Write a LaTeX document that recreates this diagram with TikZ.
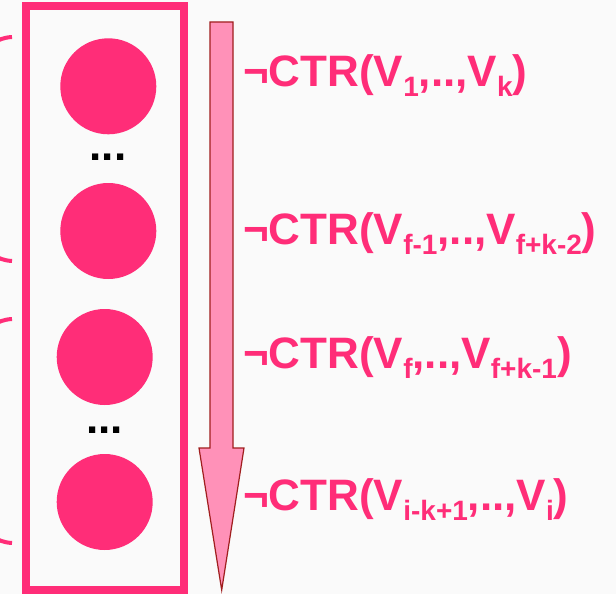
\documentclass[tikz,border=0pt]{standalone}
\usepackage{fontspec}
\setmainfont{Liberation Sans}
\definecolor{hotpink}{HTML}{FF2D78}
\definecolor{lightpink}{HTML}{FF91B8}
\definecolor{darkred}{HTML}{A01E1E}
\definecolor{bggray}{HTML}{FAFAFA}
\newcommand{\lowsub}[1]{\raisebox{-10pt}{\fontsize{28}{28}\selectfont #1}}
\tikzset{
  dotnode/.style={circle, fill=hotpink, minimum size=96pt, inner sep=0pt},
  ellipsisnode/.style={font=\fontsize{44}{44}\selectfont\bfseries, text=black, inner sep=0pt},
  ctrlabel/.style={anchor=base west, inner sep=0pt, text=hotpink, font=\fontsize{44}{44}\selectfont\bfseries},
  bracepath/.style={draw=hotpink, line width=4pt},
}
\begin{document}
\begin{tikzpicture}[x=1pt,y=-1pt]
\fill[bggray] (0,0) rectangle (616,594);
\useasboundingbox (0,0) rectangle (616,594);
\begin{scope}
\clip (0,0) rectangle (616,594);
% left braces (only ends visible)
\draw[bracepath] (12,37) .. controls (-4,38) and (-14,46) .. (-14,62) -- (-14,130)
   .. controls (-14,142) and (-22,149) .. (-34,149)
   .. controls (-22,149) and (-14,156) .. (-14,168) -- (-14,236)
   .. controls (-14,252) and (-4,260) .. (12,261);
\draw[bracepath] (12,319) .. controls (-4,320) and (-14,328) .. (-14,344) -- (-14,412)
   .. controls (-14,424) and (-22,431) .. (-34,431)
   .. controls (-22,431) and (-14,438) .. (-14,450) -- (-14,518)
   .. controls (-14,534) and (-4,542) .. (12,543);
% frame
\draw[hotpink, line width=8pt] (26,6) rectangle (184,590);
\end{scope}
% circles
\node[dotnode] (c1) at (108.3,86.3) {};
\node[dotnode] (c2) at (108.3,231) {};
\node[dotnode] (c3) at (104.7,357) {};
\node[dotnode] (c4) at (104.7,502) {};
% ellipses
\node[ellipsisnode, anchor=base] (d1) at (108,160) {...};
\node[ellipsisnode, anchor=base] (d2) at (104.5,433) {...};
% big arrow
\filldraw[fill=lightpink, draw=darkred, line width=1.2pt]
  (210,22) -- (233,22) -- (233,448) -- (244,448) -- (221.7,590)
  -- (199,448) -- (210,448) -- cycle;
% labels
\node[ctrlabel] (l1) at (243,86) {¬CTR(V\lowsub{1},..,V\lowsub{k})};
\node[ctrlabel] (l2) at (243,244) {¬CTR(V\lowsub{f-1},..,V\lowsub{f+k-2})};
\node[ctrlabel] (l3) at (243,368) {¬CTR(V\lowsub{f},..,V\lowsub{f+k-1})};
\node[ctrlabel] (l4) at (243,510) {¬CTR(V\lowsub{i-k+1},..,V\lowsub{i})};
\end{tikzpicture}
\end{document}
